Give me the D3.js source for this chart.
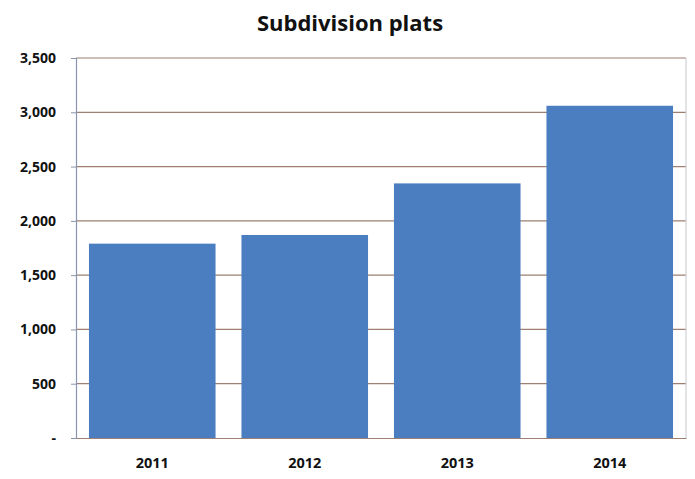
<!DOCTYPE html>
<html>
<head>
<meta charset="utf-8">
<script src="https://cdn.jsdelivr.net/npm/d3@7"></script>
<style>
  body { margin: 0; background: #fff; }
  text { font-family: "Open Sans", "DejaVu Sans", sans-serif; }
</style>
</head>
<body>
<svg id="chart" width="695" height="479"></svg>
<script>
var years = ["2011", "2012", "2013", "2014"];
var plats = [1790, 1870, 2345, 3060];
var yTicks = [0, 500, 1000, 1500, 2000, 2500, 3000, 3500];

var svg = d3.select("#chart");
var margin = {top: 58, right: 9, bottom: 41, left: 76};
var width = 695 - margin.left - margin.right,
    height = 479 - margin.top - margin.bottom;

var g = svg.append("g")
    .attr("transform", "translate(" + margin.left + "," + margin.top + ")");

var x = d3.scaleBand()
    .domain(years)
    .range([0, width])
    .paddingInner(0.17)
    .paddingOuter(0.085);

var y = d3.scaleLinear()
    .domain([0, 3500])
    .range([height, 0]);

// gridlines
g.append("g")
    .selectAll("line")
    .data(yTicks.filter(function(d) { return d > 0; }))
    .enter().append("line")
    .attr("x1", 0)
    .attr("x2", width)
    .attr("y1", function(d) { return y(d); })
    .attr("y2", function(d) { return y(d); })
    .attr("stroke", "#9e7f72")
    .attr("stroke-width", 1.2);

// right border
g.append("line")
    .attr("x1", width).attr("x2", width)
    .attr("y1", 0).attr("y2", height)
    .attr("stroke", "#c8c8cc");

// bars
g.selectAll("rect.bar")
    .data(plats)
    .enter().append("rect")
    .attr("class", "bar")
    .attr("x", function(d, i) { return x(years[i]); })
    .attr("width", x.bandwidth())
    .attr("y", function(d) { return y(d); })
    .attr("height", function(d) { return height - y(d); })
    .attr("fill", "#4a7ec0");

// y axis
var fmt = d3.format(",");
var yAxis = g.append("g")
    .call(d3.axisLeft(y)
        .tickValues(yTicks)
        .tickSize(5)
        .tickPadding(15)
        .tickFormat(function(d) { return d === 0 ? "-" : fmt(d); }));
yAxis.select(".domain").attr("stroke", "#8a96b0").attr("stroke-width", 1.2);
yAxis.selectAll(".tick line").attr("stroke", "#8a96b0");
yAxis.selectAll("text")
    .attr("font-size", 14)
    .attr("font-weight", "bold")
    .attr("fill", "#111");

// x axis
var xAxis = g.append("g")
    .attr("transform", "translate(0," + height + ")")
    .call(d3.axisBottom(x).tickSize(0).tickPadding(20));
xAxis.select(".domain").attr("stroke", "#9e7f72").attr("stroke-width", 1.2);
xAxis.selectAll("text")
    .attr("font-size", 14.5)
    .attr("font-weight", "bold")
    .attr("fill", "#111");

// title
svg.append("text")
    .attr("x", 350)
    .attr("y", 31)
    .attr("text-anchor", "middle")
    .attr("font-size", 22)
    .attr("font-weight", "bold")
    .attr("fill", "#111")
    .text("Subdivision plats");
</script>
</body>
</html>
